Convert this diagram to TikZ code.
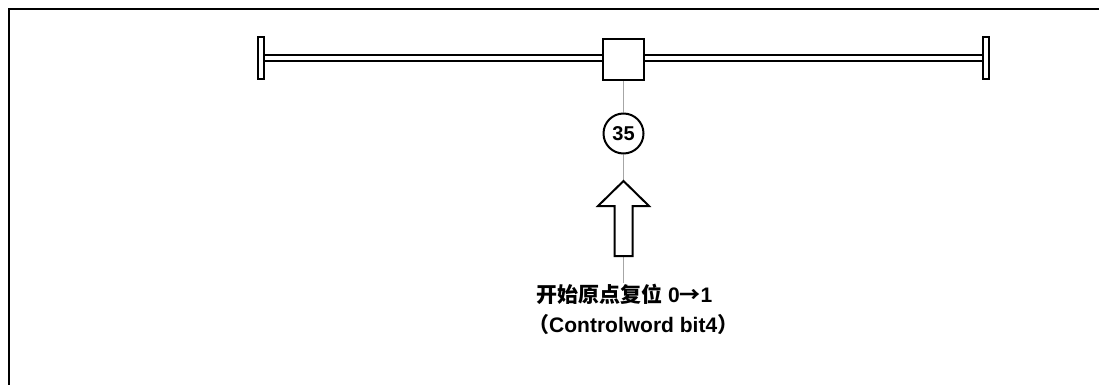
\documentclass[tikz,border=0pt]{standalone}
\usepackage{fontspec}
\setmainfont{Liberation Sans}
\newfontfamily\cjk{Noto Sans CJK SC}
\usepackage{tikz}
\usetikzlibrary{positioning}

\begin{document}
\begin{tikzpicture}[x=1pt, y=-1pt, every node/.style={font=\bfseries},
    stop/.style={draw,line width=2pt,fill=white,inner sep=0,minimum width=6pt,minimum height=42pt},
    guide/.style={draw=gray!70,line width=.5pt},
    label/.style={anchor=base west,inner sep=0,font=\fontsize{21}{30}\selectfont\bfseries}]
    \useasboundingbox (0,0) rectangle (1099,385);
    \draw[line width=2.2pt] (9,385) -- (9,9) -- (1099,9);
    \node[stop] (stopL) at (261,58) {};
    \node[stop] (stopR) at (986,58) {};
    \draw[double distance=4pt,line width=2.2pt] (stopL.east) -- (stopR.west);
    \node[draw,line width=2pt,fill=white,inner sep=0,minimum size=41pt] (pos) at (623.5,60) {};
    \node[draw,circle,line width=2pt,inner sep=0,minimum size=40pt,font=\fontsize{20}{20}\selectfont\bfseries] (home) at (623.5,133.5) {35};
    \coordinate (tip) at (623.5,181); \coordinate (base) at (623.5,256); \coordinate (tail) at (623.5,283);
    \draw[guide] (pos) -- (home); \draw[guide] (home) -- (tip); \draw[guide] (base) -- (tail);
    \draw[line width=2pt,fill=white] (tip) -- ++(25.5,25) -- ++(-16.5,0) -- ++(0,50) -- ++(-18,0) -- ++(0,-50) -- ++(-16.5,0) -- cycle;
    \node[label] (start) at (536,302) {{\cjk 开始原点复位} 0{\cjk →}1};
    \node[label] (word) at ([yshift=-30pt]start.base west) {\hspace{-8pt}{\cjk （}Controlword bit4{\cjk ）}};
\end{tikzpicture}
\end{document}
